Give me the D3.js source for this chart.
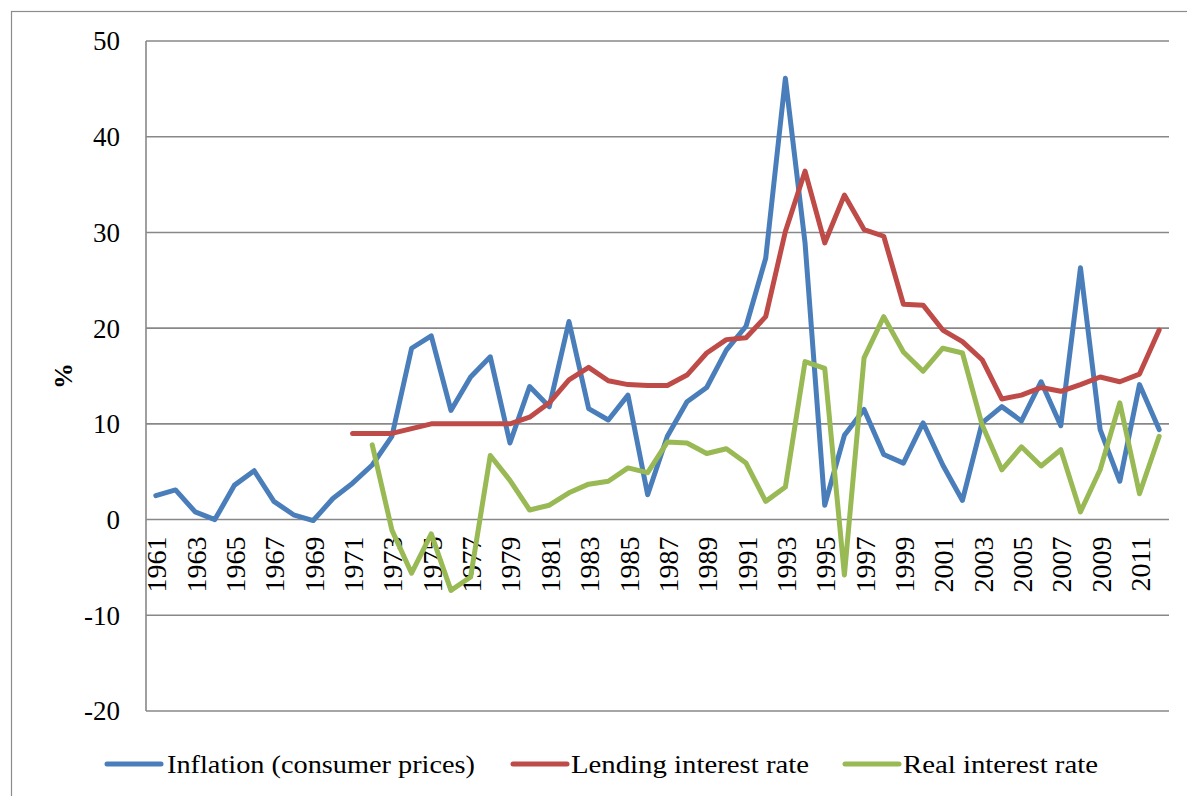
<!DOCTYPE html>
<html>
<head>
<meta charset="utf-8">
<script src="https://cdn.jsdelivr.net/npm/d3@7"></script>
<style>
  html, body { margin: 0; padding: 0; background: #fff; }
  svg { display: block; }
</style>
</head>
<body>
<svg id="chart" width="1187" height="796"></svg>
<script>
const years = [1961,1962,1963,1964,1965,1966,1967,1968,1969,1970,
  1971,1972,1973,1974,1975,1976,1977,1978,1979,1980,
  1981,1982,1983,1984,1985,1986,1987,1988,1989,1990,
  1991,1992,1993,1994,1995,1996,1997,1998,1999,2000,
  2001,2002,2003,2004,2005,2006,2007,2008,2009,2010,
  2011,2012];

const inflation = [2.5,3.1,0.8,0.0,3.6,5.1,1.9,0.5,-0.1,2.2,
  3.8,5.7,8.7,17.9,19.2,11.4,14.9,17.0,8.0,13.9,
  11.8,20.7,11.6,10.4,13.0,2.6,8.7,12.3,13.8,17.7,
  20.2,27.3,46.1,28.9,1.5,8.8,11.5,6.8,5.9,10.1,
  5.7,2.0,10.1,11.8,10.3,14.4,9.8,26.3,9.4,4.0,
  14.1,9.4];

const lending = [null,null,null,null,null,null,null,null,null,null,
  9.0,9.0,9.0,9.5,10.0,10.0,10.0,10.0,10.0,10.7,
  12.2,14.6,15.9,14.5,14.1,14.0,14.0,15.1,17.4,18.8,
  19.0,21.2,30.1,36.4,28.9,33.9,30.3,29.6,22.5,22.4,
  19.8,18.6,16.7,12.6,13.0,13.8,13.4,14.1,14.9,14.4,
  15.2,19.8];

const realRate = [null,null,null,null,null,null,null,null,null,null,
  null,7.8,-1.1,-5.6,-1.5,-7.4,-6.0,6.7,4.1,1.0,
  1.5,2.8,3.7,4.0,5.4,4.9,8.1,8.0,6.9,7.4,
  5.9,1.9,3.4,16.5,15.8,-5.8,16.9,21.2,17.5,15.5,
  17.9,17.4,9.9,5.2,7.6,5.6,7.3,0.8,5.2,12.2,
  2.7,8.7];

const yTicks = [-20, -10, 0, 10, 20, 30, 40, 50];
const xTickLabels = years.filter(v => v % 2 === 1).map(String);

const seriesNames = ["Inflation (consumer prices)", "Lending interest rate", "Real interest rate"];
const seriesColors = ["#4A7EBB", "#BE4B48", "#98B954"];
const seriesData = [inflation, lending, realRate];

(function () {
const svg = d3.select("#chart");
const pL = 146, pR = 1169, pT = 41, pB = 711;

const x = d3.scaleBand().domain(years.map(String)).range([pL, pR]).padding(0);
const y = d3.scaleLinear().domain([-20, 50]).range([pB, pT]);
const cx = yr => x(String(yr)) + x.bandwidth() / 2;

// outer border
svg.append("rect")
  .attr("x", 11.5).attr("y", 11.5)
  .attr("width", 1200).attr("height", 800)
  .attr("fill", "none").attr("stroke", "#8c8c8c").attr("stroke-width", 1.2);

// gridlines
svg.append("g").selectAll("line").data(yTicks).join("line")
  .attr("x1", pL).attr("x2", pR)
  .attr("y1", d => y(d)).attr("y2", d => y(d))
  .attr("stroke", "#888").attr("stroke-width", 1.6);

// y axis line
svg.append("line")
  .attr("x1", pL).attr("x2", pL)
  .attr("y1", pT).attr("y2", pB)
  .attr("stroke", "#888").attr("stroke-width", 1.6);

// y tick labels
svg.append("g").selectAll("text").data(yTicks).join("text")
  .attr("x", 120).attr("y", d => y(d))
  .attr("dy", "0.35em")
  .attr("text-anchor", "end")
  .attr("font-family", "Liberation Serif, serif")
  .attr("font-size", 27)
  .attr("fill", "#000")
  .text(d => d);

// y title
svg.append("text")
  .attr("transform", `translate(63, ${(pT + pB) / 2}) rotate(-90)`)
  .attr("text-anchor", "middle")
  .attr("dy", "0.35em")
  .attr("font-family", "Liberation Serif, serif")
  .attr("font-weight", "bold")
  .attr("font-size", 26)
  .text("%");

// x tick labels (at zero line)
svg.append("g").selectAll("text").data(xTickLabels).join("text")
  .attr("transform", d => `translate(${cx(d) + 1}, ${y(0) + 17}) rotate(-90)`)
  .attr("text-anchor", "end")
  .attr("dy", "0.34em")
  .attr("font-family", "Liberation Serif, serif")
  .attr("font-size", 28)
  .attr("fill", "#000")
  .text(d => d);

// lines
const line = d3.line()
  .defined(d => d.v !== null)
  .x(d => cx(d.yr))
  .y(d => y(d.v));

seriesData.forEach((arr, i) => {
  svg.append("path")
    .datum(years.map((yr, j) => ({ yr, v: arr[j] })))
    .attr("d", line)
    .attr("fill", "none")
    .attr("stroke", seriesColors[i])
    .attr("stroke-width", 5)
    .attr("stroke-linejoin", "round")
    .attr("stroke-linecap", "round");
});

// legend
const legendLayout = [
  { x1: 107, x2: 161, tx: 167, tw: 308 },
  { x1: 513, x2: 567, tx: 571, tw: 238 },
  { x1: 845, x2: 899, tx: 903, tw: 195 }
];
const ly = 764;
const lg = svg.append("g");
seriesNames.forEach((name, i) => {
  const L = legendLayout[i];
  lg.append("line")
    .attr("x1", L.x1).attr("x2", L.x2)
    .attr("y1", ly).attr("y2", ly)
    .attr("stroke", seriesColors[i])
    .attr("stroke-width", 5)
    .attr("stroke-linecap", "round");
  lg.append("text")
    .attr("x", L.tx).attr("y", ly)
    .attr("dy", "0.35em")
    .attr("font-family", "Liberation Serif, serif")
    .attr("font-size", 26)
    .attr("textLength", L.tw)
    .attr("lengthAdjust", "spacingAndGlyphs")
    .text(name);
});
})();
</script>
</body>
</html>
